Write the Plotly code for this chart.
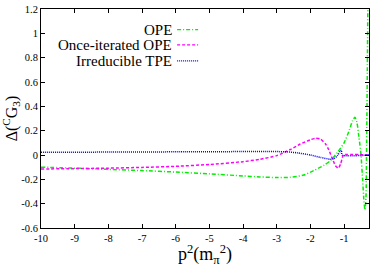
import plotly.graph_objects as go

# ---- data ----
ope_x = [-10, -9, -8, -7, -6, -5, -4, -3.5, -3, -2.6, -2.2, -1.9, -1.6, -1.4, -1.2, -1.0,
         -0.85, -0.75, -0.68, -0.62, -0.56, -0.5, -0.45, -0.41, -0.38, -0.35, -0.33, -0.31, -0.29]
ope_y = [-0.100, -0.108, -0.118, -0.128, -0.140, -0.155, -0.172, -0.180, -0.185, -0.183, -0.165,
         -0.128, -0.085, -0.045, 0.02, 0.10, 0.20, 0.28, 0.31, 0.27, 0.15, 0.01, -0.20, -0.38,
         -0.45, -0.35, 0.10, 0.70, 1.40]

iter_x = [-10, -9, -8, -7, -6, -5, -4, -3.5, -3, -2.6, -2.3, -2.0, -1.85, -1.7, -1.55, -1.45,
          -1.35, -1.25, -1.17, -1.1, -1.05, -1.02, -0.26]
iter_y = [-0.115, -0.112, -0.108, -0.102, -0.093, -0.078, -0.055, -0.035, -0.005, 0.045, 0.09,
          0.125, 0.138, 0.13, 0.09, 0.04, -0.03, -0.09, -0.108, -0.07, -0.02, 0.0, 0.0]

tpe_x = [-10, -8, -6, -4, -3, -2.7, -2.4, -2.0, -1.7, -1.4, -1.3, -1.2, -1.12, -1.08, -1.06, -0.26]
tpe_y = [0.022, 0.024, 0.026, 0.028, 0.028, 0.026, 0.018, 0.0, -0.02, -0.035, -0.03, -0.005,
         0.03, 0.04, 0.0, 0.0]

series_names = ["OPE", "Once-iterated OPE", "Irreducible TPE"]
series_colors = ["#00ee00", "#ff00ff", "#0000ff"]
series_dash = ["4px,2px,1px,2px", "3px,2px", "1px,1px"]

x_tickvals = [-10, -9, -8, -7, -6, -5, -4, -3, -2, -1]
x_ticktext = ["-10", "-9", "-8", "-7", "-6", "-5", "-4", "-3", "-2", "-1"]
y_tickvals = [-0.6, -0.4, -0.2, 0, 0.2, 0.4, 0.6, 0.8, 1.0, 1.2]
y_ticktext = ["-0.6", "-0.4", "-0.2", "0", "0.2", "0.4", "0.6", "0.8", "1", "1.2"]

FONT = "Liberation Serif"

fig = go.Figure()
for xs, ys, name, col, dash in zip([ope_x, iter_x, tpe_x], [ope_y, iter_y, tpe_y],
                                    series_names, series_colors, series_dash):
    fig.add_trace(go.Scatter(x=xs, y=ys, mode="lines", name=name,
                             line=dict(color=col, width=1.5, dash=dash, shape="spline",
                                       smoothing=0.6),
                             showlegend=False))

# legend drawn as text + sample lines (gnuplot style: text right-aligned, sample to the right)
leg_y = [0.906, 0.836, 0.763]
for name, col, dash, ly in zip(series_names, series_colors, series_dash, leg_y):
    fig.add_annotation(x=0.405, y=ly, xref="paper", yref="paper", text=name,
                       showarrow=False, xanchor="right", yanchor="middle",
                       font=dict(family=FONT, size=15, color="black"))
    fig.add_shape(type="line", xref="paper", yref="paper", x0=0.415, x1=0.479,
                  y0=ly, y1=ly, line=dict(color=col, width=1.2, dash=dash))

axis_common = dict(showline=True, linecolor="black", linewidth=1, mirror="ticks",
                   ticks="inside", ticklen=4, tickcolor="black", showgrid=False,
                   zeroline=False, automargin=False,
                   tickfont=dict(family=FONT, size=10.5, color="black"))

fig.update_xaxes(range=[-10, -0.26], tickvals=x_tickvals, ticktext=x_ticktext,
                 title=dict(text="p<sup>2</sup>(m<sub>π</sub><sup>2</sup>)",
                            font=dict(family=FONT, size=18, color="black"), standoff=1),
                 **axis_common)
fig.update_yaxes(range=[-0.6, 1.2], tickvals=y_tickvals, ticktext=y_ticktext,
                 title=dict(text="Δ(<sup>C</sup>G<sub>3</sub>)",
                            font=dict(family=FONT, size=16, color="black"), standoff=2),
                 **axis_common)

fig.update_layout(width=382, height=267, margin=dict(l=41, r=13, t=9, b=39),
                  plot_bgcolor="white", paper_bgcolor="white",
                  font=dict(family=FONT, color="black"))

fig.write_html("out.html", config={"displayModeBar": False},
               post_script="document.body.style.margin='0px';")
